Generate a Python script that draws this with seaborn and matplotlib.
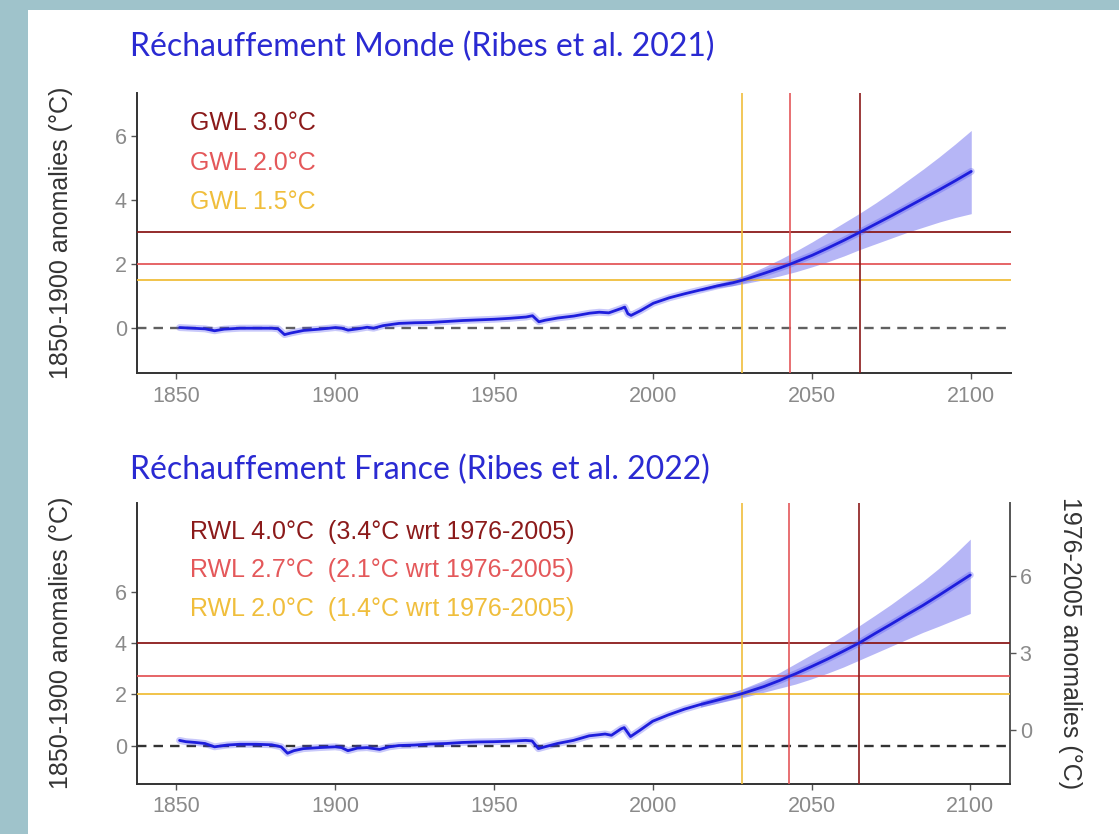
import numpy as np
import pandas as pd
import matplotlib
matplotlib.use("Agg")
import matplotlib.pyplot as plt
from matplotlib.patches import Rectangle
import seaborn as sns

# ---------------- data ----------------
monde_years = [1851, 1855, 1859, 1862, 1865, 1870, 1875, 1880, 1882, 1884, 1886, 1890, 1895,
               1900, 1902, 1904, 1907, 1910, 1912, 1915, 1920, 1925, 1930, 1935, 1940, 1945,
               1950, 1955, 1960, 1962, 1964, 1966, 1970, 1975, 1980, 1983, 1986, 1990, 1991,
               1992, 1993, 1996, 2000, 2005, 2010, 2015, 2020, 2025, 2028, 2030, 2035, 2040,
               2043, 2045, 2050, 2055, 2060, 2065, 2070, 2075, 2080, 2085, 2090, 2095, 2100]
monde_central = [0.02, 0.00, -0.02, -0.08, -0.03, 0.00, 0.00, 0.00, -0.02, -0.20, -0.15, -0.07, -0.03,
                 0.02, 0.00, -0.06, -0.02, 0.03, 0.00, 0.08, 0.15, 0.17, 0.18, 0.21, 0.24, 0.26,
                 0.28, 0.31, 0.35, 0.39, 0.20, 0.25, 0.32, 0.38, 0.47, 0.50, 0.48, 0.62, 0.66,
                 0.45, 0.40, 0.55, 0.78, 0.95, 1.08, 1.20, 1.32, 1.42, 1.50, 1.56, 1.72, 1.89,
                 2.00, 2.08, 2.28, 2.51, 2.75, 3.00, 3.26, 3.52, 3.79, 4.06, 4.33, 4.61, 4.90]

band_years = [2015, 2020, 2025, 2028, 2030, 2035, 2040, 2045, 2050, 2055, 2060, 2065, 2070,
              2075, 2080, 2085, 2090, 2095, 2100]
monde_upper = [1.24, 1.38, 1.52, 1.62, 1.70, 1.92, 2.16, 2.42, 2.70, 3.00, 3.30, 3.60, 3.92,
               4.26, 4.62, 4.98, 5.36, 5.76, 6.18]
monde_lower = [1.16, 1.26, 1.33, 1.38, 1.42, 1.52, 1.64, 1.77, 1.92, 2.08, 2.26, 2.46, 2.64,
               2.82, 3.00, 3.16, 3.32, 3.46, 3.58]

france_years = [1851, 1853, 1856, 1859, 1862, 1866, 1870, 1875, 1880, 1883, 1885, 1887, 1890,
                1895, 1900, 1902, 1904, 1907, 1910, 1914, 1917, 1920, 1925, 1930, 1935, 1940,
                1945, 1950, 1955, 1960, 1962, 1964, 1966, 1970, 1975, 1980, 1983, 1985, 1987,
                1990, 1991, 1993, 1996, 2000, 2005, 2010, 2015, 2020, 2025, 2028, 2030, 2035,
                2040, 2043, 2045, 2050, 2055, 2060, 2065, 2070, 2075, 2080, 2085, 2090, 2095, 2100]
france_central = [0.20, 0.15, 0.12, 0.08, -0.05, 0.02, 0.05, 0.05, 0.03, -0.05, -0.30, -0.20, -0.12,
                  -0.08, -0.05, -0.08, -0.20, -0.10, -0.08, -0.15, -0.05, 0.00, 0.02, 0.06, 0.08, 0.12,
                  0.14, 0.15, 0.17, 0.20, 0.18, -0.12, -0.05, 0.08, 0.20, 0.38, 0.42, 0.45, 0.40,
                  0.65, 0.70, 0.35, 0.60, 0.95, 1.20, 1.42, 1.60, 1.76, 1.92, 2.02, 2.10, 2.30,
                  2.54, 2.70, 2.80, 3.08, 3.37, 3.68, 4.00, 4.37, 4.73, 5.10, 5.46, 5.85, 6.25, 6.65]
france_upper = [1.72, 1.90, 2.08, 2.20, 2.30, 2.55, 2.85, 3.20, 3.55, 3.90, 4.28, 4.67, 5.08,
                5.50, 5.95, 6.40, 6.90, 7.45, 8.05]
france_lower = [1.50, 1.64, 1.78, 1.86, 1.92, 2.08, 2.24, 2.40, 2.60, 2.82, 3.06, 3.33, 3.60,
                3.87, 4.14, 4.41, 4.65, 4.90, 5.15]

crossing_years = [2028, 2043, 2065]
gwl_levels = [1.5, 2.0, 3.0]
rwl_levels = [2.0, 2.7, 4.0]
gwl_labels = ["GWL 1.5°C", "GWL 2.0°C", "GWL 3.0°C"]
rwl_labels = ["RWL 2.0°C  (1.4°C wrt 1976-2005)",
              "RWL 2.7°C  (2.1°C wrt 1976-2005)",
              "RWL 4.0°C  (3.4°C wrt 1976-2005)"]
level_colors = ["#F0BE3C", "#E4585A", "#8B1A1A"]
xticks = [1850, 1900, 1950, 2000, 2050, 2100]
titles = ["Réchauffement Monde (Ribes et al. 2021)", "Réchauffement France (Ribes et al. 2022)"]
ylabel_left = "1850-1900 anomalies (°C)"
ylabel_right = "1976-2005 anomalies (°C)"
offset_1976 = 0.6

# ---------------- style ----------------
sns.set_theme(style="white")
plt.rcParams["font.family"] = ["Liberation Sans", "DejaVu Sans"]

W, H = 1119, 834
fig = plt.figure(figsize=(W / 100, H / 100), dpi=100, facecolor="#9FC3CB")
fig.patches.append(Rectangle((28 / W, 0), 1 - 28 / W, (H - 10) / H, transform=fig.transFigure,
                             facecolor="white", edgecolor="none", zorder=-10))

def px_axes(left, top, right, bottom):
    return [left / W, 1 - bottom / H, (right - left) / W, (bottom - top) / H]

ax1 = fig.add_axes(px_axes(136.7, 92.7, 1011, 373))
ax2 = fig.add_axes(px_axes(136.7, 502.7, 1010, 783.5))

blue = "#1E1EDC"
tick_grey = "#8A8A8A"

def draw_panel(ax, years, central, upper, lower, levels, labels, label_ys, ylim, zero_color):
    ax.set_facecolor("none")
    ax.fill_between(band_years, lower, upper, color="#3535E8", alpha=0.36, lw=0, zorder=2)
    ax.axhline(0, color=zero_color, lw=1.7, ls=(0, (4, 3)), zorder=1)
    for lev, col in zip(levels, level_colors):
        ax.axhline(lev, color=col, lw=1.3, zorder=3)
    for yr, col in zip(crossing_years, level_colors):
        ax.axvline(yr, color=col, lw=1.2, zorder=3)
    df = pd.DataFrame({"year": years, "value": central})
    sns.lineplot(data=df, x="year", y="value", ax=ax, color="#4A4AF0", lw=5, alpha=0.3, zorder=4)
    sns.lineplot(data=df, x="year", y="value", ax=ax, color=blue, lw=2.0, zorder=5)
    for lab, col, yy in zip(labels, level_colors, label_ys):
        ax.text(1854.2, yy, lab, color=col, fontsize=18, va="baseline", ha="left", zorder=6)
    ax.set_xlim(1837.5, 2112.5)
    ax.set_ylim(*ylim)
    ax.set_xticks(xticks)
    ax.set_yticks([0, 2, 4, 6])
    ax.set_xlabel("")
    ax.set_ylabel(ylabel_left, fontsize=18, color="#333333", labelpad=30)
    ax.tick_params(axis="both", which="major", length=4, width=1, color="#555555",
                   labelcolor=tick_grey, labelsize=15.5, direction="out")
    ax.tick_params(axis="x", pad=5, bottom=True)
    ax.tick_params(axis="y", pad=3, left=True)
    for side in ["top", "right"]:
        ax.spines[side].set_visible(False)
    for side in ["left", "bottom"]:
        ax.spines[side].set_visible(True)
        ax.spines[side].set_color("#333333")
        ax.spines[side].set_linewidth(1.4)

draw_panel(ax1, monde_years, monde_central, monde_upper, monde_lower, gwl_levels,
           gwl_labels, [3.72, 4.94, 6.19], (-1.40, 7.36), "#606060")
draw_panel(ax2, france_years, france_central, france_upper, france_lower, rwl_levels,
           rwl_labels, [5.07, 6.56, 8.06], (-1.48, 9.47), "#333333")

sec = ax2.secondary_yaxis("right", functions=(lambda y: y - offset_1976, lambda y: y + offset_1976))
sec.set_yticks([0, 3, 6])
sec.tick_params(axis="y", length=4, width=1, color="#555555", labelcolor=tick_grey,
                labelsize=15.5, pad=3, right=True)
sec.spines["right"].set_color("#555555")
sec.spines["right"].set_linewidth(1.4)
sec.set_ylabel(ylabel_right, fontsize=18, color="#333333", rotation=270, labelpad=36)

title_kw = dict(fontsize=23, color="#2A2AD2", family=["Lato", "DejaVu Sans"], ha="left", va="center")
fig.text(130 / W, 1 - 47 / H, titles[0], **title_kw)
fig.text(130 / W, 1 - 470 / H, titles[1], **title_kw)

fig.savefig("out.png", dpi=100, facecolor=fig.get_facecolor())
